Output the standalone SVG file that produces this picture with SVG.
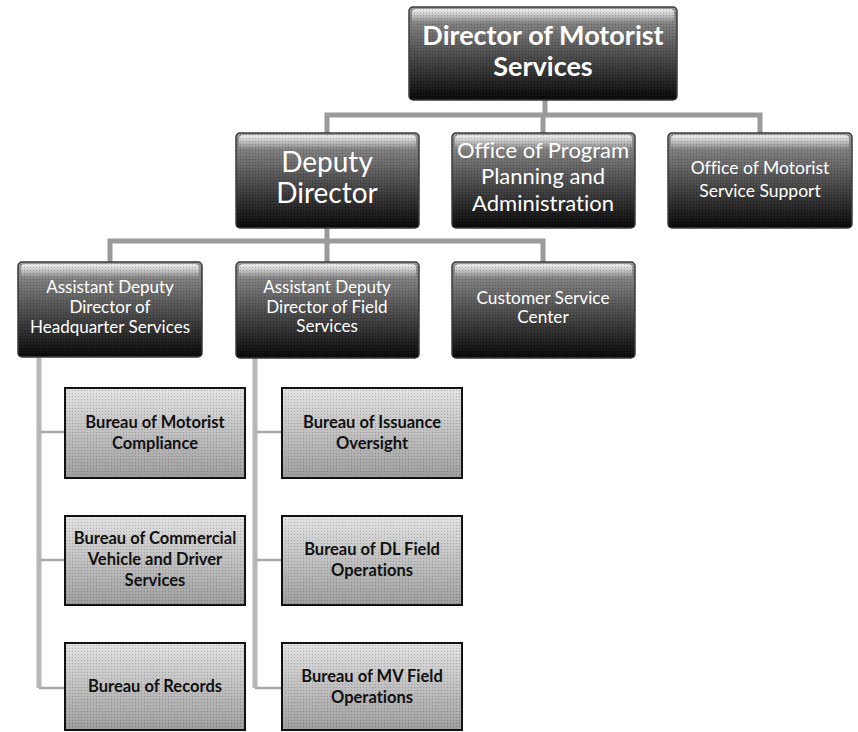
<svg xmlns="http://www.w3.org/2000/svg" width="858" height="732" viewBox="0 0 858 732">
<defs>
<linearGradient id="dark" x1="0" y1="0" x2="0" y2="1">
<stop offset="0" stop-color="#9a9a9a"/>
<stop offset="0.45" stop-color="#555"/>
<stop offset="1" stop-color="#050505"/>
</linearGradient>
<linearGradient id="gloss" x1="0" y1="0" x2="0" y2="1">
<stop offset="0" stop-color="#ffffff" stop-opacity="0.85"/>
<stop offset="1" stop-color="#ffffff" stop-opacity="0"/>
</linearGradient>
<linearGradient id="light" x1="0" y1="0" x2="0" y2="1">
<stop offset="0" stop-color="#e2e2e2"/>
<stop offset="1" stop-color="#9c9c9c"/>
</linearGradient>
<pattern id="dots" width="3" height="3" patternUnits="userSpaceOnUse">
<rect x="0" y="0" width="1" height="1" fill="#000" fill-opacity="0.18"/>
<rect x="1.5" y="1.5" width="1" height="1" fill="#fff" fill-opacity="0.12"/>
</pattern>
</defs>
<style>
.dbox{fill:url(#dark);stroke:#3a3a3a;stroke-width:1.5}
.gl{fill:url(#gloss)}
.tex{fill:url(#dots)}
.lbox{fill:url(#light);stroke:#111;stroke-width:2}
text{font-variant-ligatures:none}
.wt{fill:#fff;font-family:Lato,"Liberation Sans",sans-serif;text-anchor:middle}
.bt{fill:#111;font-family:Lato,"Liberation Sans",sans-serif;font-weight:bold;font-size:16.5px;text-anchor:middle}
.main{fill:none;stroke:#9a9a9a;stroke-width:5}
.sub{fill:none;stroke:#b8b8b8;stroke-width:5}
.br{fill:none;stroke:#a8a8a8;stroke-width:2.5}
</style>

<g id="connectors">
<path class="main" d="M545 100 V115 M327 133 V115 H760 V133 M543 115 V133"/>
<path class="main" d="M327 228 V241 M110 262 V241 H543 V262 M327 241 V262"/>
<path class="sub" d="M39 357 V688 M255 358 V688"/>
<path class="br" d="M39 432 H65 M39 560 H65 M39 688 H65 M255 432 H282 M255 560 H282 M255 688 H282"/>
</g>

<g id="director">
<rect class="dbox" x="409" y="7" width="268" height="93" rx="4"/>
<rect class="gl" x="412" y="9" width="262" height="14" rx="4"/>
<rect class="tex" x="409" y="7" width="268" height="93" rx="4"/>
<text class="wt" x="543" y="45" font-size="27" font-weight="bold">Director of Motorist</text>
<text class="wt" x="543" y="76" font-size="27" font-weight="bold">Services</text>
</g>

<g id="deputy">
<rect class="dbox" x="236" y="133" width="183" height="95" rx="4"/>
<rect class="gl" x="239" y="135" width="177" height="14" rx="4"/>
<rect class="tex" x="236" y="133" width="183" height="95" rx="4"/>
<text class="wt" x="327" y="172" font-size="28">Deputy</text>
<text class="wt" x="327" y="203" font-size="28">Director</text>
</g>

<g id="program">
<rect class="dbox" x="452" y="133" width="183" height="95" rx="4"/>
<rect class="gl" x="455" y="135" width="177" height="14" rx="4"/>
<rect class="tex" x="452" y="133" width="183" height="95" rx="4"/>
<text class="wt" x="543" y="158" font-size="22">Office of Program</text>
<text class="wt" x="543" y="184" font-size="22">Planning and</text>
<text class="wt" x="543" y="211" font-size="22">Administration</text>
</g>

<g id="support">
<rect class="dbox" x="668" y="133" width="184" height="95" rx="4"/>
<rect class="gl" x="671" y="135" width="178" height="14" rx="4"/>
<rect class="tex" x="668" y="133" width="184" height="95" rx="4"/>
<text class="wt" x="760" y="174" font-size="17.5">Office of Motorist</text>
<text class="wt" x="760" y="197" font-size="17.5">Service Support</text>
</g>

<g id="hq">
<rect class="dbox" x="18" y="262" width="184" height="95" rx="4"/>
<rect class="gl" x="21" y="264" width="178" height="14" rx="4"/>
<rect class="tex" x="18" y="262" width="184" height="95" rx="4"/>
<text class="wt" x="110" y="293" font-size="17">Assistant Deputy</text>
<text class="wt" x="110" y="313" font-size="17">Director of</text>
<text class="wt" x="110" y="333" font-size="17">Headquarter Services</text>
</g>

<g id="field">
<rect class="dbox" x="236" y="262" width="183" height="96" rx="4"/>
<rect class="gl" x="239" y="264" width="177" height="14" rx="4"/>
<rect class="tex" x="236" y="262" width="183" height="96" rx="4"/>
<text class="wt" x="327" y="293" font-size="17">Assistant Deputy</text>
<text class="wt" x="327" y="313" font-size="17">Director of Field</text>
<text class="wt" x="327" y="332" font-size="17">Services</text>
</g>

<g id="customer">
<rect class="dbox" x="452" y="262" width="183" height="96" rx="4"/>
<rect class="gl" x="455" y="264" width="177" height="14" rx="4"/>
<rect class="tex" x="452" y="262" width="183" height="96" rx="4"/>
<text class="wt" x="543" y="304" font-size="17.3">Customer Service</text>
<text class="wt" x="543" y="323" font-size="17.3">Center</text>
</g>

<g id="b-compliance">
<rect class="lbox" x="65" y="388" width="180" height="90"/>
<rect class="tex" x="65" y="388" width="180" height="90"/>
<text class="bt" x="155" y="428">Bureau of Motorist</text>
<text class="bt" x="155" y="449">Compliance</text>
</g>

<g id="b-commercial">
<rect class="lbox" x="65" y="516" width="180" height="89"/>
<rect class="tex" x="65" y="516" width="180" height="89"/>
<text class="bt" x="155" y="544">Bureau of Commercial</text>
<text class="bt" x="155" y="565">Vehicle and Driver</text>
<text class="bt" x="155" y="586">Services</text>
</g>

<g id="b-records">
<rect class="lbox" x="65" y="643" width="180" height="87"/>
<rect class="tex" x="65" y="643" width="180" height="87"/>
<text class="bt" x="155" y="692">Bureau of Records</text>
</g>

<g id="b-issuance">
<rect class="lbox" x="282" y="388" width="180" height="90"/>
<rect class="tex" x="282" y="388" width="180" height="90"/>
<text class="bt" x="372" y="428">Bureau of Issuance</text>
<text class="bt" x="372" y="449">Oversight</text>
</g>

<g id="b-dl">
<rect class="lbox" x="282" y="516" width="180" height="89"/>
<rect class="tex" x="282" y="516" width="180" height="89"/>
<text class="bt" x="372" y="555">Bureau of DL Field</text>
<text class="bt" x="372" y="576">Operations</text>
</g>

<g id="b-mv">
<rect class="lbox" x="282" y="643" width="180" height="87"/>
<rect class="tex" x="282" y="643" width="180" height="87"/>
<text class="bt" x="372" y="682">Bureau of MV Field</text>
<text class="bt" x="372" y="703">Operations</text>
</g>
</svg>
